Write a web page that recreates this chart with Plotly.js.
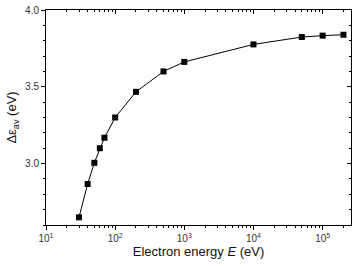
<!DOCTYPE html>
<html><head><meta charset="utf-8">
<script src="https://cdn.plot.ly/plotly-3.0.1.min.js"></script>
<style>html,body{margin:0;padding:0;background:#fff}#c{width:357px;height:266px}</style>
</head><body><div id="c"></div>
<script>
const energy = [30, 40, 50, 60, 70, 100, 200, 500, 1000, 10000, 50000, 100000, 200000];
const deltaEps = [2.65, 2.867, 3.005, 3.10, 3.168, 3.30, 3.467, 3.60, 3.662, 3.776, 3.824, 3.833, 3.839];
const xTickVals = [10, 100, 1000, 10000, 100000];
const xTickText = ['10<sup>1</sup>', '10<sup>2</sup>', '10<sup>3</sup>', '10<sup>4</sup>', '10<sup>5</sup>'];
const xMinorVals = [20,30,40,50,60,70,80,90,200,300,400,500,600,700,800,900,2000,3000,4000,5000,6000,7000,8000,9000,20000,30000,40000,50000,60000,70000,80000,90000,200000];
const yTickVals = [3.0, 3.5, 4.0];
const yTickText = ['3.0', '3.5', '4.0'];

const font = {family: 'Arial, Liberation Sans, sans-serif', color: '#222', size: 11};
const xr = [1, Math.log10(257000)];
const yr = [2.6, 4.0];
const data = [{
  x: energy, y: deltaEps, type: 'scatter', mode: 'lines+markers',
  line: {color: '#000', width: 1},
  marker: {symbol: 'square', size: 6, color: '#000'},
  showlegend: false
}];
const layout = {
  width: 357, height: 266,
  margin: {l: 46, r: 6, t: 10, b: 41},
  paper_bgcolor: '#fff', plot_bgcolor: '#fff',
  font: font,
  xaxis: {
    type: 'log', range: xr, tickvals: xTickVals, ticktext: xTickText,
    ticks: 'outside', ticklen: 4, tickcolor: '#000', tickwidth: 1,
    minor: {ticks: 'outside', ticklen: 2, tickcolor: '#000', tickvals: xMinorVals},
    showline: true, linecolor: '#000', linewidth: 1, mirror: false,
    showgrid: false, zeroline: false,
    tickfont: {size: 10, color: '#333'},
    title: {text: 'Electron energy <i>E</i> (eV)', font: {size: 13, color: '#111'}, standoff: 3}
  },
  xaxis2: {
    type: 'log', range: xr, overlaying: 'x', side: 'top', anchor: 'y',
    tickvals: xTickVals, showticklabels: false,
    ticks: 'inside', ticklen: 4, tickcolor: '#000',
    minor: {ticks: 'inside', ticklen: 2, tickcolor: '#000', tickvals: xMinorVals},
    showline: true, linecolor: '#000', linewidth: 1, showgrid: false, zeroline: false
  },
  yaxis: {
    range: yr, tickvals: yTickVals, ticktext: yTickText,
    ticks: 'outside', ticklen: 4, tickcolor: '#000',
    minor: {ticks: 'outside', ticklen: 2, tickcolor: '#000', dtick: 0.1, tick0: 2.6},
    showline: true, linecolor: '#000', linewidth: 1,
    showgrid: false, zeroline: false,
    tickfont: {size: 10, color: '#333'},
    title: {text: 'Δε<sub>av</sub> (eV)', font: {size: 13, color: '#111'}, standoff: 5}
  },
  yaxis2: {
    range: yr, overlaying: 'y', side: 'right', anchor: 'x',
    tickvals: yTickVals, showticklabels: false,
    ticks: 'inside', ticklen: 4, tickcolor: '#000',
    minor: {ticks: 'inside', ticklen: 2, tickcolor: '#000', dtick: 0.1, tick0: 2.6},
    showline: true, linecolor: '#000', linewidth: 1, showgrid: false, zeroline: false
  }
};
data.push({x: [energy[0]], y: [deltaEps[0]], xaxis: 'x2', yaxis: 'y2', mode: 'markers', marker: {opacity: 0}, hoverinfo: 'skip', showlegend: false});
Plotly.newPlot('c', data, layout, {staticPlot: true});
</script></body></html>
